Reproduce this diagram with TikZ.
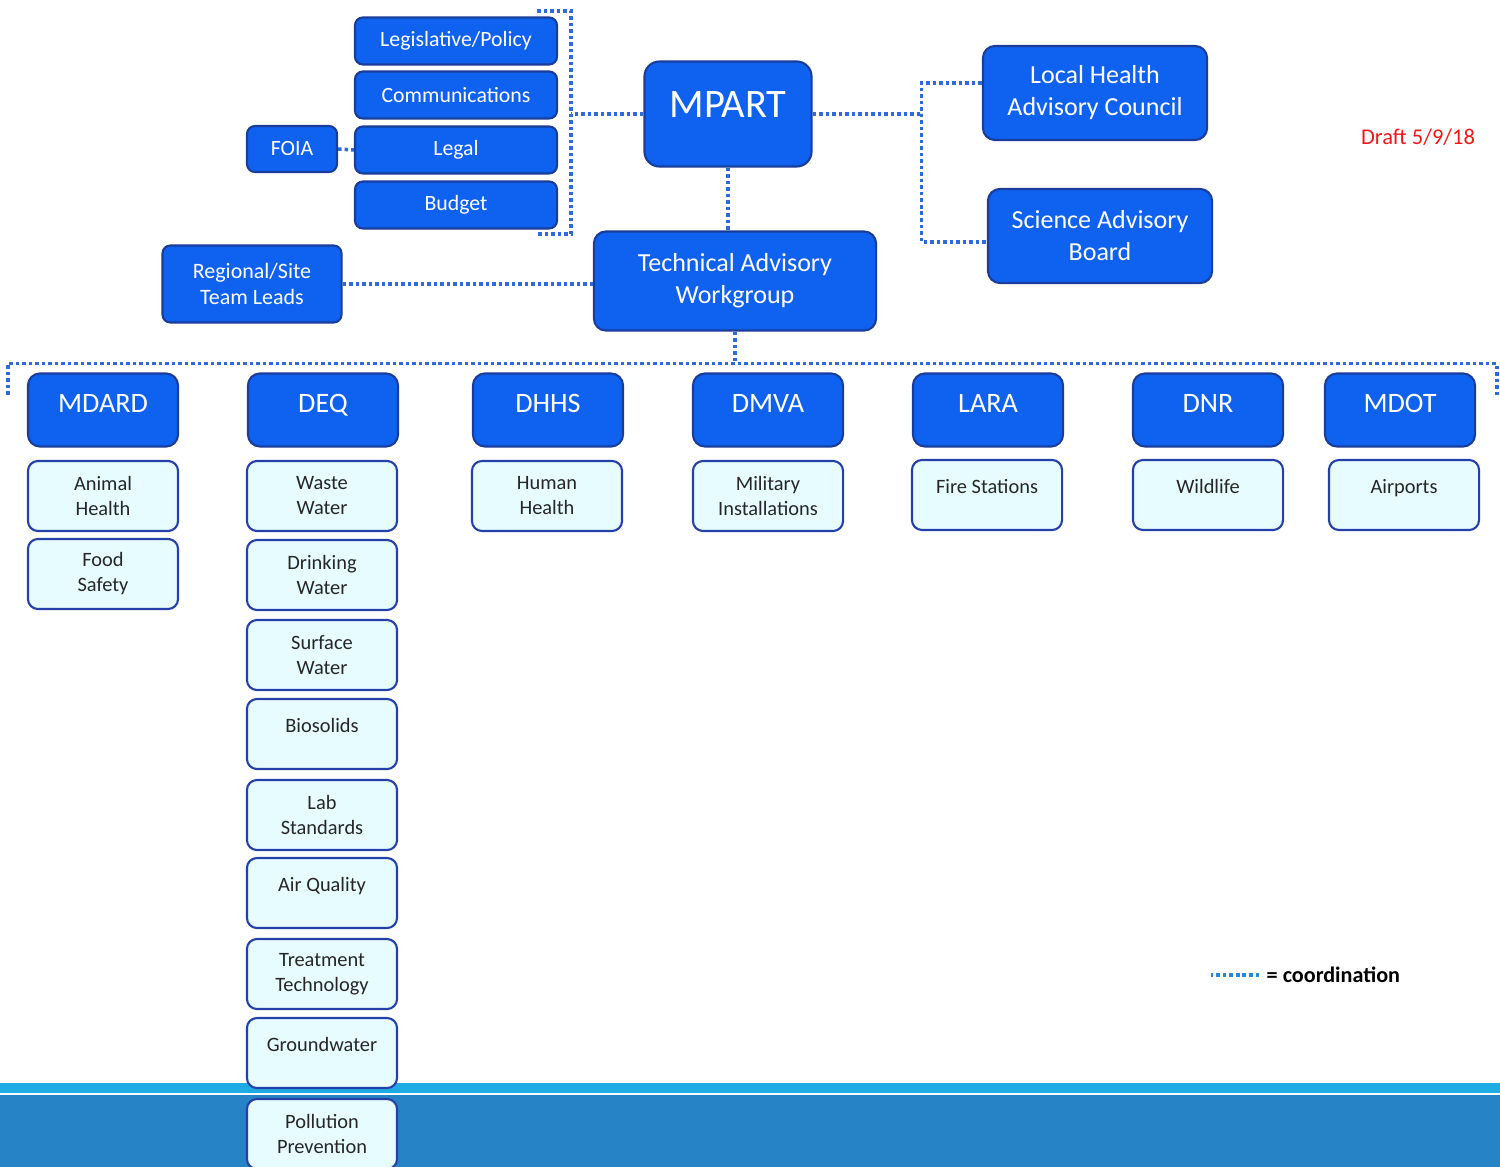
\documentclass[tikz,border=0pt]{standalone}
\usepackage{fontspec}
\setmainfont{Carlito}
\definecolor{boxblue}{HTML}{0F62F0}
\definecolor{boxedge}{HTML}{1A3C9A}
\definecolor{subfill}{HTML}{E6FCFF}
\definecolor{subedge}{HTML}{2540A8}
\definecolor{dotblue}{HTML}{2E6BD6}
\definecolor{bandlight}{HTML}{1EAAE2}
\definecolor{banddark}{HTML}{2683C6}
\definecolor{draftred}{HTML}{F01818}
\begin{document}
\begin{tikzpicture}[x=0.01cm, y=-0.01cm,
    every node/.style={inner sep=0pt},
    bluebox/.style={draw=boxedge, line width=0.6pt, fill=boxblue, rounded corners=0.08cm, text=white, align=center},
    topbox/.style={bluebox, minimum width=2.02cm, minimum height=0.47cm, font=\fontsize{6.2}{7.5}\selectfont},
    bigbox/.style={bluebox, rounded corners=0.12cm, minimum width=2.24cm, minimum height=0.94cm, font=\fontsize{7.4}{9.1}\selectfont},
    agency/.style={bluebox, rounded corners=0.12cm, minimum width=1.5cm, minimum height=0.73cm, font=\fontsize{8.0}{10}\selectfont, text depth=0.14cm},
    subbox/.style={draw=subedge, line width=0.6pt, fill=subfill, rounded corners=0.1cm, minimum width=1.5cm, minimum height=0.7cm, align=center, text=black!85, font=\fontsize{5.8}{7.1}\selectfont},
    oneline/.style={text depth=0.18cm},
    coord/.style={dotblue, line width=1pt, dash pattern=on 1pt off 0.85pt}]

    \useasboundingbox (0,0) rectangle (1500,1167);

    % ==================== footer band ====================
    \fill[bandlight] (0,1083) rectangle (1500,1093);
    \fill[banddark] (0,1095) rectangle (1500,1167);

    % ==================== top ====================
    \node[topbox] (legis) at (456,41) {Legislative/Policy};
    \node[topbox] (comm) at (456,95) {Communications};
    \node[topbox] (legal) at (456,150) {Legal};
    \node[topbox] (budget) at (456,205) {Budget};
    \node[topbox, minimum width=0.9cm, minimum height=0.46cm] (foia) at (292,149) {FOIA};

    \node[bluebox, rounded corners=0.15cm, minimum width=1.67cm, minimum height=1.05cm,
          font=\fontsize{11.5}{13}\selectfont, text depth=0.18cm] (mpart) at (728,114) {MPART};
    \node[bigbox] (lhac) at (1095,93) {Local Health\\Advisory Council};
    \node[bigbox] (sab) at (1100,236) {Science Advisory\\Board};
    \node[bigbox, minimum width=2.82cm, minimum height=0.99cm] (taw) at (735,281) {Technical Advisory\\Workgroup};
    \node[bluebox, minimum width=1.79cm, minimum height=0.77cm, font=\fontsize{6.25}{7.5}\selectfont] (leads) at (252,284) {Regional/Site\\Team Leads};

    \node[text=draftred, font=\fontsize{6.4}{8}\selectfont] (draft) at (1418,137) {Draft 5/9/18};

    % coordination lines
    \coordinate (brtop) at (537,11);
    \coordinate (brbot) at (537,234);
    \coordinate (brx) at (571,0);
    \draw[coord] (brtop) -| (brx |- brbot) -- (brbot);
    \draw[coord] (mpart.west) -- (mpart.west -| brx);
    \draw[coord] (foia.east) -- (legal.west);
    \draw[coord] (mpart.east) -- ++(109,0) coordinate (rj);
    \draw[coord] (lhac.175) -| (rj) |- (sab.183);
    \draw[coord] (mpart.south) -- (mpart.south |- taw.north);
    \draw[coord] (leads.east) -- (leads.east -| taw.west);

    % ==================== agencies ====================
    \coordinate (railL) at (8,395);
    \coordinate (railR) at (1497,395);
    \draw[coord] (taw.south) -- ++(0,32) coordinate (rail);
    \draw[coord] (railL) |- (rail) -| (railR);

    \node[agency] (mdard) at (103,410) {MDARD};
    \node[agency] (deq) at (323,410) {DEQ};
    \node[agency] (dhhs) at (548,410) {DHHS};
    \node[agency] (dmva) at (768,410) {DMVA};
    \node[agency] (lara) at (988,410) {LARA};
    \node[agency] (dnr) at (1208,410) {DNR};
    \node[agency] (mdot) at (1400,410) {MDOT};

    % MDARD
    \node[subbox] (animal) at (103,496) {Animal\\Health};
    \node[subbox] (food) at (103,574) {Food\\Safety};

    % DEQ
    \node[subbox] (waste) at (322,496) {Waste\\Water};
    \node[subbox] (drink) at (322,575) {Drinking\\Water};
    \node[subbox] (surface) at (322,655) {Surface\\Water};
    \node[subbox, oneline] (bio) at (322,734) {Biosolids};
    \node[subbox] (lab) at (322,815) {Lab\\Standards};
    \node[subbox, oneline] (air) at (322,893) {Air Quality};
    \node[subbox] (treat) at (322,974) {Treatment\\Technology};
    \node[subbox, oneline] (ground) at (322,1053) {Groundwater};
    \node[subbox] (pollution) at (322,1134) {Pollution\\Prevention};

    % others
    \node[subbox] (human) at (547,496) {Human\\Health};
    \node[subbox] (military) at (768,496) {Military\\Installations};
    \node[subbox, oneline] (fire) at (987,495) {Fire Stations};
    \node[subbox, oneline] (wildlife) at (1208,495) {Wildlife};
    \node[subbox, oneline] (airports) at (1404,495) {Airports};

    % legend
    \node[anchor=west, font=\fontsize{6.3}{8}\selectfont\bfseries] (legend) at (1266,975) {= coordination};
    \draw[coord, dotblue!80!cyan] (legend.west) ++(-7,0) -- ++(-48,0);

\end{tikzpicture}
\end{document}
